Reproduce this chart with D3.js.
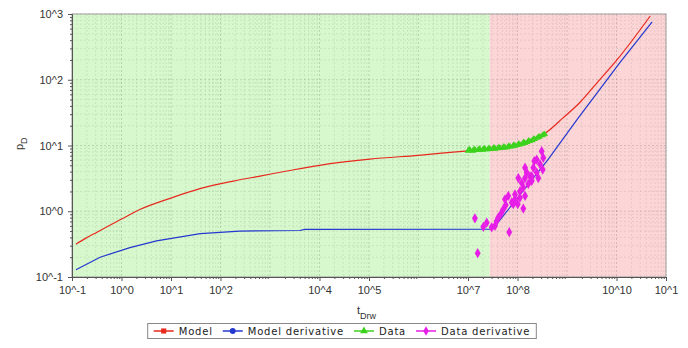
<!DOCTYPE html>
<html>
<head>
<meta charset="utf-8">
<script src="https://cdn.jsdelivr.net/npm/d3@7"></script>
<style>
  body { margin: 0; background: #fff; }
  svg { display: block; font-family: "Liberation Sans", Arial, sans-serif; }
</style>
</head>
<body>
<div id="chart"></div>
<script>
// Data (t_Drw, p_D)
const modelT = [0.12, 0.18, 0.32, 1, 2.4, 9.5, 38.5, 182, 631, 2500, 1e4, 1.05e5, 1e6, 1e7, 3e7, 1e8, 2e8, 4e8, 8.3e8, 1.8e9, 4e9, 1.02e10, 4.8e10];
const modelP = [0.316, 0.38, 0.48, 0.76, 1.07, 1.57, 2.21, 2.88, 3.43, 4.17, 5.0, 6.2, 7.1, 8.3, 8.9, 10.0, 12.0, 16.2, 26.3, 44.7, 89, 200, 933];

const derivT = [0.12, 0.37, 1.48, 5.1, 39, 245, 4000, 5000, 3.16e7, 4.2e8, 1.58e9, 1.17e10, 5.25e10];
const derivP = [0.129, 0.20, 0.28, 0.355, 0.457, 0.50, 0.51, 0.53, 0.535, 6.2, 24.5, 182, 760];

const dataT = [1.0e7, 1.12e7, 1.26e7, 1.41e7, 1.58e7, 1.78e7, 2.0e7, 2.24e7, 2.51e7, 2.82e7, 3.16e7, 3.55e7, 3.98e7, 4.47e7, 5.01e7, 5.62e7,
  6.31e7, 7.08e7, 7.94e7, 8.91e7, 1.0e8, 1.12e8, 1.26e8, 1.41e8, 1.58e8, 1.78e8, 2.0e8, 2.24e8, 2.51e8, 2.82e8, 3.16e8, 3.55e8,
  1.06e7, 1.33e7, 1.68e7, 2.11e7, 2.66e7, 3.35e7, 4.22e7, 5.31e7, 6.68e7, 8.41e7, 1.06e8, 1.33e8, 1.68e8, 2.11e8, 2.66e8, 3.35e8];
const dataP = [8.3, 8.4, 8.3, 8.5, 8.5, 8.6, 8.6, 8.7, 8.7, 8.8, 8.9, 8.9, 9.0, 9.1, 9.2, 9.3,
  9.4, 9.6, 9.7, 9.9, 10.1, 10.3, 10.6, 10.9, 11.2, 11.6, 12.0, 12.5, 13.0, 13.6, 14.2, 14.9,
  8.7, 8.8, 8.9, 9.0, 9.1, 9.3, 9.4, 9.6, 9.8, 10.2, 10.6, 11.2, 11.8, 12.6, 13.5, 14.6];

const dderT = [1.38e7, 1.57e7, 2.04e7, 2.39e7, 3.01e7, 3.51e7, 3.80e7, 4.09e7, 4.64e7, 5.16e7, 5.78e7, 5.59e7, 6.82e7, 7.64e7, 8.9e7,
  1.01e8, 1.31e8, 1.12e8, 1.42e8, 6.52e7, 3.08e8, 3.32e8, 2.44e8, 2.85e8, 2.09e8, 1.42e8, 2.44e8, 1.79e8, 1.42e8, 1.04e8,
  1.65e8, 1.31e8, 1.12e8, 8.9e7, 1.94e8, 2.63e8, 1.53e8, 1.22e8, 3.23e8, 2.18e8, 8.2e7, 1.94e8];
const dderP = [0.78, 0.23, 0.58, 0.67, 0.57, 0.60, 0.71, 0.80, 0.92, 1.07, 1.24, 1.52, 0.48, 1.36, 1.52,
  1.28, 1.10, 1.61, 1.71, 1.71, 8.2, 6.5, 6.1, 5.2, 4.6, 4.6, 3.9, 3.4, 3.2, 3.2,
  2.6, 2.3, 2.0, 1.8, 2.9, 3.2, 3.9, 2.7, 4.3, 5.8, 1.28, 3.4];

const regionSplit = 2.75e7;

const xTicks = [0.1, 1, 10, 100, 1e4, 1e5, 1e7, 1e8, 1e10, 1e11];
const xTickLabels = ["10^-1", "10^0", "10^1", "10^2", "10^4", "10^5", "10^7", "10^8", "10^10", "10^1"];
const yTicks = [0.1, 1, 10, 100, 1000];
const yTickLabels = ["10^-1", "10^0", "10^1", "10^2", "10^3"];

const seriesNames = ["Model", "Model derivative", "Data", "Data derivative"];
const seriesColors = ["#e8281e", "#2438d0", "#3cd21e", "#e61ee6"];

// Setup
const W = 688, H = 348;
const plot = { left: 72, right: 666, top: 14, bottom: 277 };

const svg = d3.select("#chart").append("svg").attr("width", W).attr("height", H);

const x = d3.scaleLog().domain([0.1, 1e11]).range([plot.left, plot.right]);
const y = d3.scaleLog().domain([0.1, 1000]).range([plot.bottom, plot.top]);

// background zones
svg.append("rect").attr("x", x(0.1)).attr("y", plot.top)
  .attr("width", x(regionSplit) - x(0.1)).attr("height", plot.bottom - plot.top)
  .attr("fill", "#d6f8cc");
svg.append("rect").attr("x", x(regionSplit)).attr("y", plot.top)
  .attr("width", x(1e11) - x(regionSplit)).attr("height", plot.bottom - plot.top)
  .attr("fill", "#fcd6d6");

// grid
const xMinor = [], yMinor = [];
for (let e = -1; e < 11; e++) for (let k = 2; k <= 9; k++) xMinor.push(k * Math.pow(10, e));
for (let e = -1; e < 3; e++) for (let k = 2; k <= 9; k++) yMinor.push(k * Math.pow(10, e));
const xMajor = d3.range(-1, 12).map(e => Math.pow(10, e));

const grid = svg.append("g");
grid.selectAll(".gxm").data(xMinor).join("line")
  .attr("x1", d => x(d)).attr("x2", d => x(d)).attr("y1", plot.top).attr("y2", plot.bottom)
  .attr("stroke", "#000").attr("stroke-opacity", 0.08).attr("stroke-dasharray", "2,2");
grid.selectAll(".gym").data(yMinor).join("line")
  .attr("x1", plot.left).attr("x2", plot.right).attr("y1", d => y(d)).attr("y2", d => y(d))
  .attr("stroke", "#000").attr("stroke-opacity", 0.08).attr("stroke-dasharray", "2,2");
grid.selectAll(".gxM").data(xMajor).join("line")
  .attr("x1", d => x(d)).attr("x2", d => x(d)).attr("y1", plot.top).attr("y2", plot.bottom)
  .attr("stroke", "#000").attr("stroke-opacity", 0.15).attr("stroke-dasharray", "2,2");
grid.selectAll(".gyM").data(yTicks).join("line")
  .attr("x1", plot.left).attr("x2", plot.right).attr("y1", d => y(d)).attr("y2", d => y(d))
  .attr("stroke", "#000").attr("stroke-opacity", 0.15).attr("stroke-dasharray", "2,2");

// frame (top / right)
svg.append("rect").attr("x", plot.left).attr("y", plot.top)
  .attr("width", plot.right - plot.left).attr("height", plot.bottom - plot.top)
  .attr("fill", "none").attr("stroke", "#a0a0a0");

// lines
const smooth = d3.line().x(d => x(d[0])).y(d => y(d[1])).curve(d3.curveMonotoneX);
const straight = d3.line().x(d => x(d[0])).y(d => y(d[1]));
svg.append("path").datum(modelT.map((t, i) => [t, modelP[i]]))
  .attr("d", smooth).attr("fill", "none").attr("stroke", seriesColors[0]).attr("stroke-width", 1.2);
svg.append("path").datum(derivT.map((t, i) => [t, derivP[i]]))
  .attr("d", straight).attr("fill", "none").attr("stroke", seriesColors[1]).attr("stroke-width", 1.2);

// data points
svg.append("g").selectAll("path").data(dataT.map((t, i) => [t, dataP[i]])).join("path")
  .attr("transform", d => `translate(${x(d[0])},${y(d[1])})`)
  .attr("d", d3.symbol(d3.symbolTriangle, 18)).attr("fill", seriesColors[2]);
svg.append("g").selectAll("path").data(dderT.map((t, i) => [t, dderP[i]])).join("path")
  .attr("transform", d => `translate(${x(d[0])},${y(d[1])})`)
  .attr("d", d3.symbol(d3.symbolDiamond, 30)).attr("fill", seriesColors[3]);

// axes
const axisColor = "#555";
svg.append("g").attr("transform", `translate(${plot.left},0)`)
  .call(d3.axisLeft(y).tickValues(yTicks).tickFormat((d, i) => yTickLabels[i]).tickSize(4).tickPadding(5));
svg.append("g").attr("transform", `translate(${plot.left},0)`)
  .call(d3.axisLeft(y).tickValues(yMinor).tickFormat("").tickSize(2).tickSizeOuter(0));
svg.append("g").attr("transform", `translate(0,${plot.bottom})`)
  .call(d3.axisBottom(x).tickValues(xTicks).tickFormat((d, i) => xTickLabels[i]).tickSize(4).tickPadding(5));
svg.append("g").attr("transform", `translate(0,${plot.bottom})`)
  .call(d3.axisBottom(x).tickValues(xMinor).tickFormat("").tickSize(2).tickSizeOuter(0));
svg.selectAll(".domain, .tick line").attr("stroke", axisColor);
svg.selectAll(".tick text").attr("fill", "#333").style("font-size", "11px")
  .style("font-family", "'Liberation Sans', Arial, sans-serif");

// axis titles
const xt = svg.append("text").attr("x", 357).attr("y", 314).attr("fill", "#333").style("font-size", "11px");
xt.append("tspan").text("t");
xt.append("tspan").attr("dy", 5).style("font-size", "9px").text("Drw");

const yt = svg.append("text").attr("transform", "rotate(-90)").attr("x", -150).attr("y", 23)
  .attr("fill", "#333").style("font-size", "11px");
yt.append("tspan").text("p");
yt.append("tspan").attr("dy", 4).style("font-size", "9px").text("D");

// legend
const symbols = [d3.symbolSquare, d3.symbolCircle, d3.symbolTriangle, d3.symbolDiamond];
const legend = svg.append("g");
let lx = 6;
seriesNames.forEach((name, i) => {
  const g = legend.append("g").attr("transform", `translate(${lx},0)`);
  g.append("line").attr("x1", 0).attr("x2", 20).attr("y1", 0).attr("y2", 0)
    .attr("stroke", seriesColors[i]).attr("stroke-width", 1.5);
  g.append("path").attr("transform", "translate(10,0)")
    .attr("d", d3.symbol(symbols[i], 26)).attr("fill", seriesColors[i]);
  const txt = g.append("text").attr("x", 25).attr("y", 4).attr("fill", "#222")
    .style("font-family", "'DejaVu Sans', Verdana, sans-serif").style("font-size", "10px")
    .style("letter-spacing", "0.8px").text(name);
  lx += 25 + txt.node().getComputedTextLength() + 10;
});
const legW = lx - 4;
const legX = 342 - legW / 2, legY = 331;
legend.attr("transform", `translate(${legX},${legY})`);
legend.insert("rect", ":first-child").attr("x", 0).attr("y", -7.5).attr("width", legW).attr("height", 15)
  .attr("fill", "#fff").attr("stroke", "#888");
</script>
</body>
</html>
